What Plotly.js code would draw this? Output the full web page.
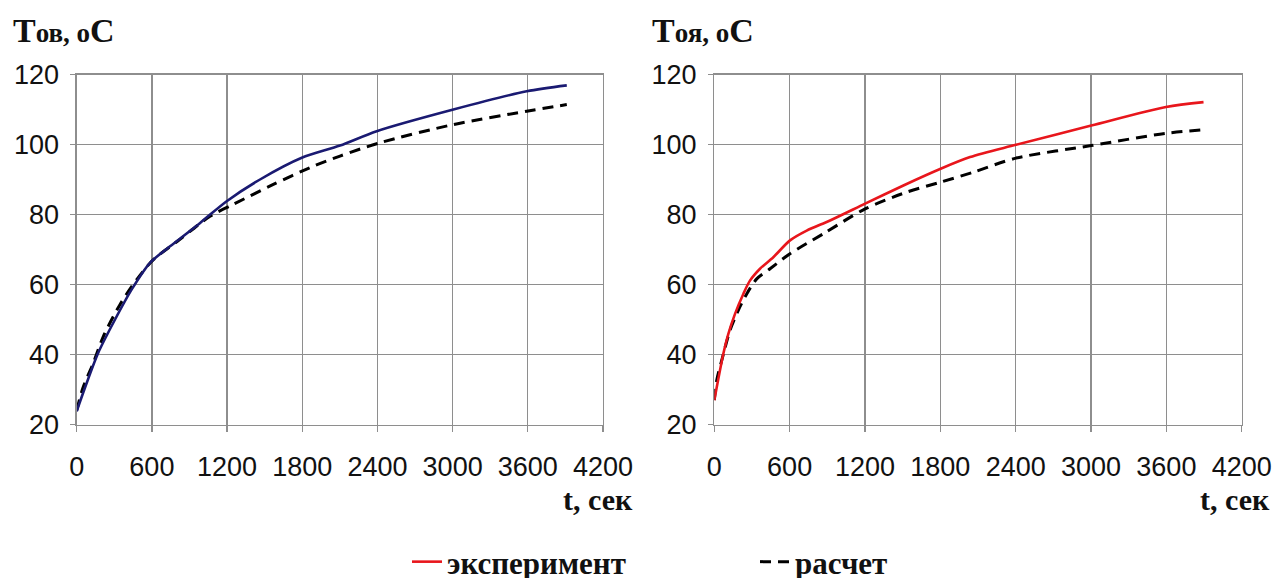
<!DOCTYPE html>
<html>
<head>
<meta charset="utf-8">
<script src="https://cdn.plot.ly/plotly-3.0.1.min.js"></script>
<style>html,body{margin:0;padding:0;background:#fff;}#chart{width:1276px;height:578px;}</style>
</head>
<body>
<div id="chart"></div>
<script>
// Left panel: T_ов
const leftExpTime = [0, 66, 172, 306, 439, 585, 745, 985, 1197, 1463, 1796, 2101, 2394, 3006, 3591, 3911];
const leftExpTemp = [23.8, 30.5, 40.5, 50, 58.6, 66.2, 70.9, 77.6, 83.8, 90, 96.2, 99.7, 103.8, 110, 115.2, 116.9];
const leftCalcTime = [0, 50, 133, 213, 346, 479, 612, 824, 1064, 1250, 1569, 1888, 2101, 2420, 3006, 3591, 3911];
const leftCalcTemp = [24, 30.5, 37.6, 45.2, 54.3, 61.4, 67.1, 72.9, 79.5, 82.9, 88.6, 93.8, 96.7, 100.5, 105.7, 109.5, 111.4];

// Right panel: T_оя
const rightExpTime = [0, 72, 112, 165, 231, 284, 364, 470, 603, 736, 922, 1201, 1506, 1798, 2037, 2402, 3002, 3597, 3896];
const rightExpTemp = [26.9, 40.2, 45.9, 51.6, 57.3, 61.1, 64.5, 67.8, 72.6, 75.4, 78.3, 83.1, 88.3, 93, 96.4, 99.9, 105.4, 110.7, 112.1];
const rightCalcTime = [0, 19, 59, 125, 191, 258, 338, 444, 603, 869, 1201, 1533, 1798, 2064, 2402, 3002, 3597, 3896];
const rightCalcTemp = [27, 32.6, 38.3, 46.9, 52.6, 57.3, 61.6, 64.5, 68.8, 74.5, 81.6, 86.4, 89.2, 92.1, 96.1, 99.7, 103.2, 104.2];

const xTicks = [0, 600, 1200, 1800, 2400, 3000, 3600, 4200];
const yTicks = [20, 40, 60, 80, 100, 120];
const seriesNames = ['эксперимент', 'расчет'];
const panelTitles = ['T<span style="font-size:27px">ов, о</span>C', 'T<span style="font-size:27px">оя, о</span>C'];
const xTitle = 't, сек';

const W = 1276, H = 578;
const px = v => v / W;
const py = v => 1 - v / H;

const gridColor = '#8e8e8e';
const tickFont = {family: '"Liberation Sans", Arial, sans-serif', size: 27, color: '#111'};

function xAxis(d0, d1, anchor) {
  return {
    domain: [px(d0), px(d1)], anchor: anchor, range: [0, 4200],
    tickmode: 'array', tickvals: xTicks, ticktext: xTicks.map(String),
    showgrid: true, gridcolor: gridColor, gridwidth: 1.3,
    showline: true, linecolor: gridColor, linewidth: 1.3, mirror: true,
    ticks: 'outside', ticklen: 6, tickcolor: gridColor, tickwidth: 1.3,
    ticklabelstandoff: 12,
    tickfont: tickFont, zeroline: false, fixedrange: true
  };
}
function yAxis(anchor) {
  return {
    domain: [py(424.5), py(74.5)], anchor: anchor, range: [20, 120],
    tickmode: 'array', tickvals: yTicks, ticktext: yTicks.map(String),
    showgrid: true, gridcolor: gridColor, gridwidth: 1.3,
    showline: true, linecolor: gridColor, linewidth: 1.3, mirror: true,
    ticks: 'outside', ticklen: 5, tickcolor: gridColor, tickwidth: 1.3,
    ticklabelstandoff: 6,
    tickfont: tickFont, zeroline: false, fixedrange: true
  };
}

const dashStyle = '11px,7px';
const traces = [
  {x: leftCalcTime, y: leftCalcTemp, xaxis: 'x', yaxis: 'y', mode: 'lines', name: seriesNames[1],
   line: {color: '#000', width: 3, dash: dashStyle, shape: 'spline', smoothing: 0.8}, showlegend: false},
  {x: leftExpTime, y: leftExpTemp, xaxis: 'x', yaxis: 'y', mode: 'lines', name: seriesNames[0],
   line: {color: '#1a1a72', width: 2.6, shape: 'spline', smoothing: 0.8}, showlegend: false},
  {x: rightCalcTime, y: rightCalcTemp, xaxis: 'x2', yaxis: 'y2', mode: 'lines', name: seriesNames[1],
   line: {color: '#000', width: 3, dash: dashStyle, shape: 'spline', smoothing: 0.8}, showlegend: true, legendrank: 2},
  {x: rightExpTime, y: rightExpTemp, xaxis: 'x2', yaxis: 'y2', mode: 'lines', name: seriesNames[0],
   line: {color: '#e8161c', width: 2.6, shape: 'spline', smoothing: 0.8}, showlegend: true, legendrank: 1}
];

const serif = '"Liberation Serif", "Times New Roman", serif';
const titleFont = {family: serif, size: 34, color: '#111', weight: 'bold'};
const axisLabelFont = {family: serif, size: 30, color: '#111', weight: 'bold'};
const legendFont = {family: serif, size: 31, color: '#111', weight: 'bold'};

const layout = {
  width: W, height: H,
  margin: {l: 0, r: 0, t: 0, b: 0, autoexpand: false},
  paper_bgcolor: '#fff', plot_bgcolor: '#fff',
  xaxis: xAxis(76.7, 603, 'y'),
  yaxis: yAxis('x'),
  xaxis2: xAxis(714.3, 1241.7, 'y2'),
  yaxis2: yAxis('x2'),
  showlegend: true,
  legend: {
    orientation: 'h', x: px(407), y: py(562), xanchor: 'left', yanchor: 'middle',
    font: legendFont, traceorder: 'normal', entrywidth: 303, entrywidthmode: 'pixels',
    bgcolor: 'rgba(0,0,0,0)'
  },
  annotations: [
    {text: panelTitles[0], xref: 'paper', yref: 'paper', x: px(11), y: py(30), xanchor: 'left', yanchor: 'middle', showarrow: false, font: titleFont},
    {text: panelTitles[1], xref: 'paper', yref: 'paper', x: px(650), y: py(30), xanchor: 'left', yanchor: 'middle', showarrow: false, font: titleFont},
    {text: xTitle, xref: 'paper', yref: 'paper', x: px(635), y: py(499), xanchor: 'right', yanchor: 'middle', showarrow: false, font: axisLabelFont},
    {text: xTitle, xref: 'paper', yref: 'paper', x: px(1272), y: py(499), xanchor: 'right', yanchor: 'middle', showarrow: false, font: axisLabelFont}
  ]
};

Plotly.newPlot('chart', traces, layout, {staticPlot: true, displayModeBar: false});
</script>
</body>
</html>
